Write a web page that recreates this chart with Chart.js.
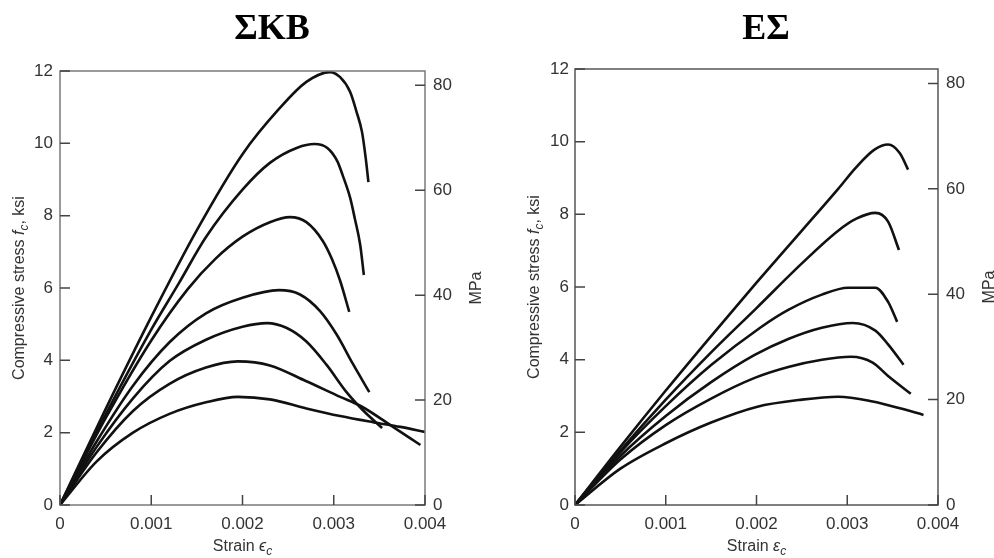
<!DOCTYPE html>
<html>
<head>
<meta charset="utf-8">
<script src="https://cdn.jsdelivr.net/npm/chart.js@4.4.0/dist/chart.umd.min.js"></script>
<style>
  body { margin: 0; background: #fff; }
  #wrap { position: relative; width: 994px; height: 558px; overflow: hidden; }
  canvas { position: absolute; top: 0; }
</style>
</head>
<body>
<div id="wrap">
  <canvas id="skbChart" width="497" height="558" style="left:0"></canvas>
  <canvas id="esChart" width="497" height="558" style="left:497px"></canvas>
</div>
<script>
// axis ranges
const strainMax = 0.004;
const ksiMax = 12;
const mpaPerKsi = 6.895;

// ΣΚΒ curves (strain, stress in ksi)
const skbStrain12 = [0, 0.0005, 0.001, 0.0015, 0.002, 0.0024, 0.0027, 0.00296, 0.00307, 0.00318, 0.00325, 0.00331, 0.00335, 0.00338];
const skbStress12 = [0, 2.65, 5.2, 7.6, 9.7, 10.95, 11.7, 11.97, 11.83, 11.42, 10.87, 10.31, 9.6, 8.93];
const skbStrain10 = [0, 0.0005, 0.001, 0.0013, 0.0016, 0.002, 0.0023, 0.0026, 0.00279, 0.00293, 0.00304, 0.0031, 0.00318, 0.00323, 0.00329, 0.00333];
const skbStress10 = [0, 2.5, 4.85, 6.12, 7.41, 8.72, 9.46, 9.88, 9.98, 9.87, 9.5, 9.1, 8.49, 7.93, 7.19, 6.36];
const skbStrain8 = [0, 0.0005, 0.001, 0.0014, 0.0017, 0.002, 0.0023, 0.00252, 0.0027, 0.00288, 0.00298, 0.00307, 0.00317];
const skbStress8 = [0, 2.4, 4.55, 5.97, 6.8, 7.42, 7.82, 7.96, 7.82, 7.3, 6.8, 6.2, 5.34];
const skbStrain6 = [0, 0.0004, 0.0008, 0.0012, 0.0016, 0.002, 0.0024, 0.00263, 0.00285, 0.00303, 0.00321, 0.00339];
const skbStress6 = [0, 1.75, 3.3, 4.5, 5.3, 5.73, 5.94, 5.82, 5.36, 4.72, 3.9, 3.12];
const skbStrain5 = [0, 0.0004, 0.0008, 0.0012, 0.0016, 0.002, 0.00227, 0.00248, 0.0027, 0.00292, 0.00314, 0.00332, 0.00353];
const skbStress5 = [0, 1.6, 2.95, 3.98, 4.57, 4.93, 5.03, 4.9, 4.52, 3.88, 3.12, 2.62, 2.13];
const skbStrain4 = [0, 0.0004, 0.0008, 0.0012, 0.0016, 0.00195, 0.0023, 0.0027, 0.00307, 0.0033, 0.00362, 0.00395];
const skbStress4 = [0, 1.45, 2.6, 3.35, 3.8, 3.97, 3.86, 3.42, 2.99, 2.73, 2.21, 1.66];
const skbStrain3 = [0, 0.0004, 0.0008, 0.0012, 0.0016, 0.00195, 0.0023, 0.0027, 0.00307, 0.00343, 0.00373, 0.004];
const skbStress3 = [0, 1.2, 2.0, 2.52, 2.84, 2.99, 2.92, 2.67, 2.46, 2.29, 2.16, 2.02];

// ΕΣ curves (strain, stress in ksi)
const esStrain10 = [0, 0.0005, 0.001, 0.0015, 0.002, 0.0025, 0.0029, 0.0031, 0.0033, 0.00345, 0.00358, 0.00367];
const esStress10 = [0, 1.6, 3.15, 4.65, 6.12, 7.55, 8.7, 9.3, 9.78, 9.92, 9.68, 9.23];
const esStrain8 = [0, 0.0005, 0.001, 0.0015, 0.002, 0.0025, 0.0029, 0.0031, 0.00331, 0.00345, 0.00357];
const esStress8 = [0, 1.5, 2.9, 4.2, 5.42, 6.65, 7.55, 7.88, 8.04, 7.8, 7.02];
const esStrain6 = [0, 0.0005, 0.001, 0.0015, 0.00204, 0.00235, 0.00272, 0.00301, 0.00331, 0.00345, 0.00355];
const esStress6 = [0, 1.45, 2.72, 3.85, 4.88, 5.37, 5.79, 5.98, 5.98, 5.59, 5.04];
const esStrain5 = [0, 0.0005, 0.001, 0.0015, 0.00198, 0.00235, 0.00272, 0.00306, 0.00331, 0.00345, 0.00362];
const esStress5 = [0, 1.35, 2.45, 3.38, 4.13, 4.57, 4.88, 5.01, 4.8, 4.42, 3.86];
const esStrain4 = [0, 0.0005, 0.001, 0.0015, 0.00198, 0.00235, 0.00272, 0.00304, 0.00328, 0.00345, 0.0037];
const esStress4 = [0, 1.25, 2.2, 2.93, 3.5, 3.8, 4.0, 4.08, 3.92, 3.55, 3.06];
const esStrain3 = [0, 0.0005, 0.001, 0.0015, 0.002, 0.0025, 0.0029, 0.00328, 0.00357, 0.00384];
const esStress3 = [0, 1.0, 1.7, 2.27, 2.7, 2.9, 2.98, 2.85, 2.67, 2.48];

const skbCurves = [
  [skbStrain12, skbStress12], [skbStrain10, skbStress10], [skbStrain8, skbStress8],
  [skbStrain6, skbStress6], [skbStrain5, skbStress5], [skbStrain4, skbStress4], [skbStrain3, skbStress3]
];
const esCurves = [
  [esStrain10, esStress10], [esStrain8, esStress8], [esStrain6, esStress6],
  [esStrain5, esStress5], [esStrain4, esStress4], [esStrain3, esStress3]
];

const sans = '"Liberation Sans", Arial, sans-serif';
const textGrey = '#333';

// draw text made of pieces (italic / subscript), centred on x,y
function drawRich(ctx, parts, x, y, angle) {
  const fontFor = p => (p.italic ? 'italic ' : '') + (p.sub ? 12 : 16) + 'px ' + sans;
  ctx.save();
  ctx.translate(x, y);
  ctx.rotate(angle);
  ctx.textAlign = 'left';
  ctx.textBaseline = 'middle';
  const widths = parts.map(p => { ctx.font = fontFor(p); return ctx.measureText(p.t).width; });
  let cx = -widths.reduce((s, w) => s + w, 0) / 2;
  parts.forEach((p, i) => {
    ctx.font = fontFor(p);
    ctx.fillText(p.t, cx, p.sub ? 5 : 0);
    cx += widths[i];
  });
  ctx.restore();
}

// frame, inward tick marks, titles
const decor = {
  id: 'decor',
  afterDraw(chart, args, opts) {
    const ctx = chart.ctx, a = chart.chartArea;
    const sx = chart.scales.x, sy = chart.scales.y, sy2 = chart.scales.y2;
    const tick = 10;
    ctx.save();
    ctx.strokeStyle = opts.frameColor;
    ctx.lineWidth = 1.5;
    ctx.strokeRect(a.left, a.top, a.right - a.left, a.bottom - a.top);

    ctx.strokeStyle = '#444';
    ctx.beginPath();
    sx.ticks.forEach((t, i) => { const p = sx.getPixelForTick(i); ctx.moveTo(p, a.bottom); ctx.lineTo(p, a.bottom - tick); });
    sy.ticks.forEach((t, i) => { const p = sy.getPixelForTick(i); ctx.moveTo(a.left, p); ctx.lineTo(a.left + tick, p); });
    sy2.ticks.forEach((t, i) => { const p = sy2.getPixelForTick(i); ctx.moveTo(a.right, p); ctx.lineTo(a.right - tick, p); });
    ctx.stroke();

    ctx.fillStyle = '#000';
    ctx.font = 'bold 36px "Liberation Serif", "Times New Roman", serif';
    ctx.textAlign = 'center';
    ctx.textBaseline = 'middle';
    ctx.fillText(opts.title, opts.titleX, 30);

    ctx.fillStyle = textGrey;
    const midY = (a.top + a.bottom) / 2;
    drawRich(ctx, [{t: 'Compressive stress '}, {t: 'f', italic: true}, {t: 'c', italic: true, sub: true}, {t: ', ksi'}],
      a.left - 40, midY, -Math.PI / 2);
    drawRich(ctx, [{t: 'MPa'}], a.right + 52, midY, -Math.PI / 2);
    drawRich(ctx, [{t: 'Strain '}, {t: opts.eps, italic: true}, {t: 'c', italic: true, sub: true}],
      (a.left + a.right) / 2, a.bottom + 42, 0);
    ctx.restore();
  }
};

function makeChart(id, curves, cfg) {
  const datasets = curves.map(([strain, stress]) => ({
    data: strain.map((e, i) => ({x: e, y: stress[i]})),
    showLine: true,
    borderColor: '#111',
    borderWidth: 2.6,
    pointRadius: 0,
    cubicInterpolationMode: 'monotone',
    fill: false
  }));
  const tickFont = {family: sans, size: 17};
  return new Chart(document.getElementById(id), {
    type: 'scatter',
    data: {datasets},
    plugins: [decor],
    options: {
      responsive: false,
      animation: false,
      layout: {padding: {top: cfg.top}},
      plugins: {
        legend: {display: false},
        tooltip: {enabled: false},
        decor: {title: cfg.title, titleX: cfg.titleX, eps: cfg.eps, frameColor: cfg.frameColor}
      },
      scales: {
        x: {
          type: 'linear', min: 0, max: strainMax,
          grid: {display: false, drawTicks: false}, border: {display: false},
          ticks: {stepSize: 0.001, color: textGrey, font: tickFont, padding: 9, maxRotation: 0,
            callback: v => v === 0 ? '0' : v.toFixed(3)},
          afterFit: s => { s.height = 53; }
        },
        y: {
          position: 'left', min: 0, max: ksiMax,
          grid: {display: false, drawTicks: false}, border: {display: false},
          ticks: {stepSize: 2, color: textGrey, font: tickFont, padding: cfg.yPad},
          afterFit: s => { s.width = cfg.leftW; }
        },
        y2: {
          position: 'right', min: 0, max: ksiMax * mpaPerKsi,
          grid: {display: false, drawTicks: false}, border: {display: false},
          ticks: {stepSize: 20, includeBounds: false, color: textGrey, font: tickFont, padding: 8},
          afterFit: s => { s.width = cfg.rightW; }
        }
      }
    }
  });
}

makeChart('skbChart', skbCurves, {title: 'ΣΚΒ', titleX: 272, eps: 'ϵ', top: 71, leftW: 60, rightW: 72, yPad: 7, frameColor: '#7a7a7a'});
makeChart('esChart', esCurves, {title: 'ΕΣ', titleX: 269, eps: 'ε', top: 69, leftW: 78, rightW: 56, yPad: 6, frameColor: '#555'});
</script>
</body>
</html>
